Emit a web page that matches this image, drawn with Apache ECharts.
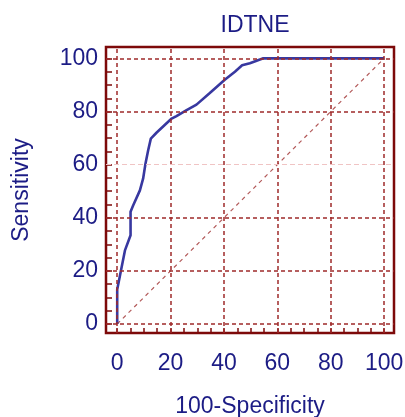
<!DOCTYPE html>
<html>
<head>
<meta charset="utf-8">
<script src="https://cdn.jsdelivr.net/npm/echarts@6/dist/echarts.min.js"></script>
<style>
  html, body { margin: 0; padding: 0; background: #fff; }
  #chart { width: 405px; height: 417px; }
</style>
</head>
<body>
<div id="chart"></div>
<script>
// ROC curve
const specComplement = [0, 0, 1.3, 2.9, 5, 5, 6, 8.5, 9.7, 10.6, 11.6, 12.6, 14.7, 20.2, 22.2, 26, 29.7, 34.7, 40.3, 44.1, 46.8, 49.7, 54.5, 100];
const sensitivity   = [0, 13, 19.6, 27.7, 33.4, 42.3, 44.7, 50.3, 54.7, 60.4, 65.4, 69.8, 72, 77.2, 78.3, 80.5, 82.6, 87, 92, 95, 97.4, 98.2, 100, 100];
const diagonal = [[0, 0], [100, 100]];

const labelTicks = [0, 20, 40, 60, 80, 100];
const minorTicks = [0, 5, 10, 15, 20, 25, 30, 35, 40, 45, 50, 55, 60, 65, 70, 75, 80, 85, 90, 95, 100];
const gridX = [0, 20, 40, 60, 80, 100];
const gridY = [0, 20, 40, 80, 100];
const fadedY = [60];

const navy = '#1c1c85';
const maroon = '#7d0a0a';
const font = 'Liberation Sans, Arial, sans-serif';
const fs = 23;

const chart = echarts.init(document.getElementById('chart'));

const gridLines = [];
gridX.forEach(v => gridLines.push({ xAxis: v }));
gridY.forEach(v => gridLines.push({ yAxis: v }));
fadedY.forEach(v => gridLines.push({ yAxis: v, lineStyle: { color: '#f0c4c4', width: 1, type: [5, 3] } }));

const option = {
  animation: false,
  title: {
    text: 'IDTNE',
    left: 250,
    textAlign: 'center',
    top: 9,
    textStyle: { color: navy, fontSize: fs, fontWeight: 'normal', fontFamily: font }
  },
  grid: {
    left: 106, right: 11, top: 47, bottom: 84,
    outerBoundsMode: 'none',
    containLabel: false,
    show: true,
    borderColor: maroon,
    borderWidth: 2.5,
    backgroundColor: '#fff'
  },
  xAxis: {
    type: 'value',
    min: -4.2, max: 103.7,
    name: '100-Specificity',
    nameLocation: 'middle',
    nameGap: 62,
    nameTextStyle: { color: navy, fontSize: fs, fontFamily: font },
    axisLine: { show: false, onZero: false },
    axisTick: { show: true, inside: true, length: 5, customValues: minorTicks, lineStyle: { color: maroon, width: 1.5 } },
    axisLabel: { customValues: labelTicks, color: navy, fontSize: fs, fontFamily: font, margin: 19 },
    splitLine: { show: false }
  },
  yAxis: {
    type: 'value',
    min: -3.4, max: 104.3,
    name: 'Sensitivity',
    nameLocation: 'middle',
    nameGap: 73,
    nameTextStyle: { color: navy, fontSize: fs, fontFamily: font },
    axisLine: { show: false, onZero: false },
    axisTick: { show: true, inside: true, length: 6, customValues: minorTicks, lineStyle: { color: maroon, width: 1.5 } },
    axisLabel: { customValues: labelTicks, color: navy, fontSize: fs, fontFamily: font, margin: 8 },
    splitLine: { show: false }
  },
  series: [
    {
      type: 'line',
      data: diagonal,
      symbol: 'none',
      silent: true,
      lineStyle: { color: '#b35a5a', width: 1.2, type: [4, 4] },
      markLine: {
        silent: true,
        symbol: 'none',
        label: { show: false },
        lineStyle: { color: '#9e2a2a', width: 1.5, type: [4, 3] },
        data: gridLines
      },
      z: 1
    },
    {
      type: 'line',
      data: specComplement.map((x, i) => [x, sensitivity[i]]),
      symbol: 'none',
      lineStyle: { color: '#3838a0', width: 2.6 },
      z: 3
    }
  ]
};

chart.setOption(option);
</script>
</body>
</html>
